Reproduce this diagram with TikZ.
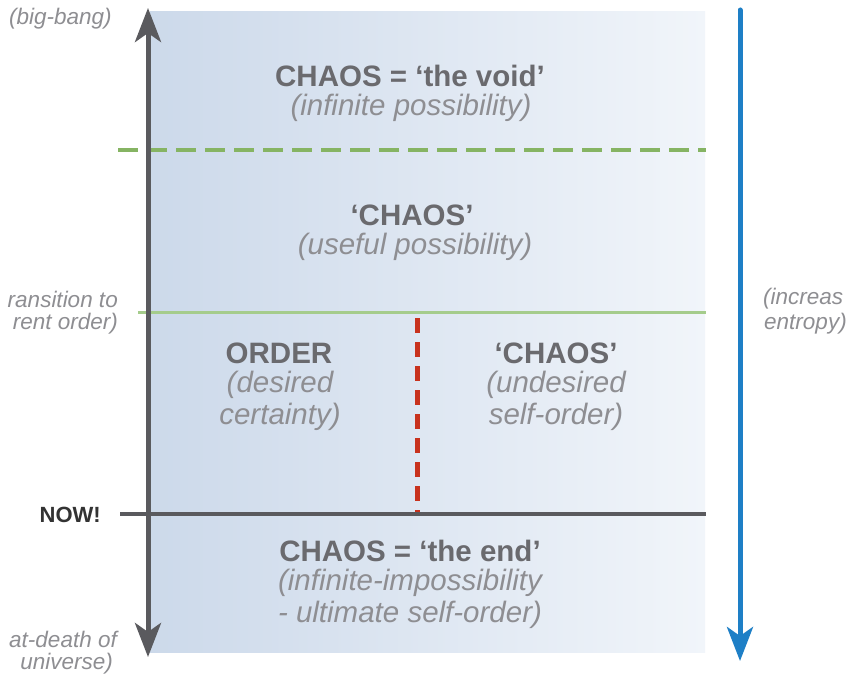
\documentclass[tikz,border=0pt]{standalone}
\usepackage{fontspec}
\setmainfont{Liberation Sans}
\usetikzlibrary{arrows.meta}
\definecolor{bgblue}{HTML}{CCD9EA}
\definecolor{bglight}{HTML}{F1F5FA}
\definecolor{axisgray}{HTML}{5A5A5E}
\definecolor{entblue}{HTML}{1E7FC6}
\definecolor{dgreen}{HTML}{86B463}
\definecolor{lgreen}{HTML}{A5CC8C}
\definecolor{redd}{HTML}{C8321E}
\definecolor{headtxt}{HTML}{6A6A6E}
\definecolor{subtxt}{HTML}{8E8E92}
\tikzset{
  head/.style={font=\fontsize{29.5}{32}\selectfont\bfseries, text=headtxt, inner sep=0pt},
  sub/.style={font=\fontsize{29.5}{32}\selectfont\itshape, text=subtxt, inner sep=0pt},
  side/.style={font=\fontsize{22.5}{25}\selectfont\itshape, text=subtxt, inner sep=0pt},
}
\begin{document}
\begin{tikzpicture}[x=1pt,y=-1pt]
\clip (0,0) rectangle (850,679);
\fill[white] (0,0) rectangle (850,679);
% background panel
\shade[left color=bgblue, right color=bglight] (150,12) rectangle (705,652);
% coordinates
\coordinate (gtop) at (148,8);
\coordinate (gbot) at (148,657);
\coordinate (btop) at (740,10);
\coordinate (bbot) at (740,661);
\coordinate (d1) at (118,150);
\coordinate (d2) at (706,150);
\coordinate (s1) at (138,312);
\coordinate (s2) at (706,312);
\coordinate (n1) at (120,514);
\coordinate (n2) at (706,514);
\coordinate (r1) at (417,318);
\coordinate (r2) at (417,512);
% lines
\draw[dgreen, line width=4pt, dash pattern=on 20pt off 9pt] (d1) -- (d2);
\draw[lgreen, line width=3pt] (s1) -- (s2);
\draw[redd, line width=5pt, dash pattern=on 15pt off 9pt] (r1) -- (r2);
\draw[axisgray, line width=4pt] (n1) -- (n2);
% arrows
\draw[axisgray, line width=5pt, {Stealth[length=34pt,width=26pt,inset=9pt]}-{Stealth[length=34pt,width=26pt,inset=9pt]}] (gtop) -- (gbot);
\draw[entblue, line width=5pt, line cap=round, -{Stealth[length=34pt,width=26pt,inset=9pt]}] (btop) -- (bbot);
% texts
\node[head] (t1) at (410,76) {CHAOS = ‘the void’};
\node[sub] (t2) at (411,108) {(infinite possibility)};
\node[head] (t3) at (412,215) {‘CHAOS’};
\node[sub] (t4) at (415,247) {(useful possibility)};
\node[head] (t5) at (279,353) {ORDER};
\node[sub] (t6) at (280,385) {(desired};
\node[sub] (t7) at (280,417) {certainty)};
\node[head] (t8) at (556,353) {‘CHAOS’};
\node[sub] (t9) at (556,385) {(undesired};
\node[sub] (t10) at (556,417) {self-order)};
\node[head] (t11) at (410,551) {CHAOS = ‘the end’};
\node[sub] (t12) at (410,583) {(infinite-impossibility};
\node[sub] (t13) at (410,615) {- ultimate self-order)};
% side labels (as far as the picture shows them)
\node[side, anchor=west] (l1) at (9,19) {(big-bang)};
\node[side, anchor=east] (l2) at (118,299) {ransition to};
\node[side, anchor=east] (l3) at (118,324) {rent order)};
\node[font=\fontsize{22}{25}\selectfont\bfseries, text=black!80, inner sep=0pt, anchor=east] (now) at (101,515) {NOW!};
\node[side, anchor=east] (l4) at (117,639) {at-death of};
\node[side, anchor=east] (l5) at (113,664) {universe)};
\node[side, anchor=west] (r1t) at (763,299) {(increas};
\node[side, anchor=west] (r2t) at (764,324) {entropy)};
\end{tikzpicture}
\end{document}
